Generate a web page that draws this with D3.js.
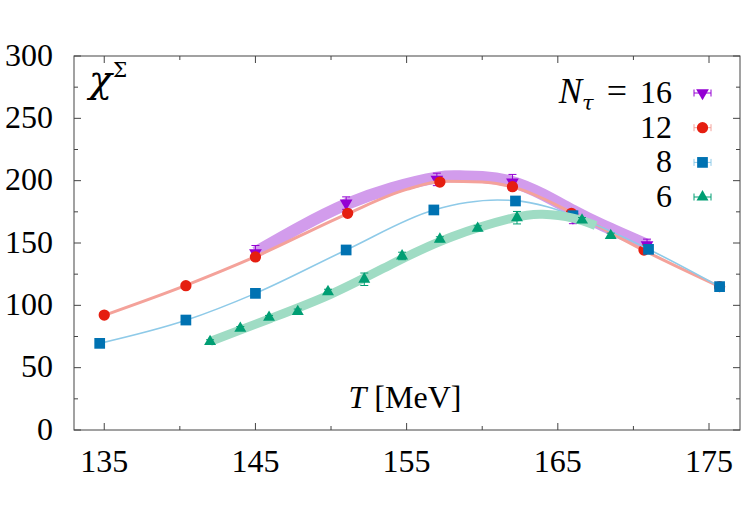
<!DOCTYPE html>
<html>
<head>
<meta charset="utf-8">
<script src="https://cdn.jsdelivr.net/npm/d3@7"></script>
<style>
  body { margin: 0; background: #fff; }
</style>
</head>
<body>
<div id="chart"></div>
<script>
// ---- data ----
// N_tau = 16 (points + fit band)
const T16 = [145, 151, 157, 162, 166, 170.9];
const v16 = [142, 182, 201, 198.7, 170.5, 148.4];
const e16 = [6, 5, 5, 6.3, 5, 4.7];
const band16T = [145, 148, 151, 154, 157, 158.5, 160, 162, 164, 166, 168, 171];
const band16v = [142.5, 163, 181, 194, 202.5, 203.5, 203, 199, 189, 176, 164, 148];

// N_tau = 12
const T12 = [135, 140.4, 145, 151.1, 157.2, 162, 165.9, 170.7, 175.7];
const v12 = [92.2, 115.8, 138.8, 173.8, 198.9, 195.2, 173.8, 144.4, 115];
const e12 = [1, 1, 1.5, 2, 2, 2, 2, 1.5, 1];
const fit12T = [135, 140.4, 145, 151, 155, 157.5, 160, 162, 166, 170.7, 175.7];
const fit12v = [92, 116, 139, 173, 193, 199.5, 199, 195, 174, 144, 115];

// N_tau = 8
const T8 = [134.7, 140.4, 145, 151, 156.8, 162.2, 166, 171, 175.7];
const v8 = [69.5, 88.2, 109.6, 144.4, 176.5, 183.7, 171.9, 144.9, 115];
const e8 = [1, 1, 1, 1.5, 1.5, 1.5, 1.5, 1, 1];
const fit8T = [134.7, 140.4, 145, 151, 156.8, 159, 161, 162.2, 164.3, 166, 171, 175.7];
const fit8v = [69.5, 88, 109.6, 144.4, 176.5, 182.5, 184.5, 184, 179, 172, 145, 115];

// N_tau = 6
const T6 = [142, 144, 145.9, 147.8, 149.8, 152.2, 154.7, 157.2, 159.7, 162.3, 166.6, 168.5];
const v6 = [70.9, 81.5, 90.4, 95, 110.9, 120.9, 139.6, 153, 161.8, 170.3, 168.4, 155.9];
const e6 = [1.5, 1.5, 1.5, 2, 2, 5, 3, 2, 2, 5, 2, 2];
const band6T = [142, 146, 150, 154, 158, 162, 164, 166, 167.5];
const band6v = [71, 89.5, 109, 133, 155, 170, 173, 170, 164];

const xTicks = [135, 145, 155, 165, 175];
const yTicks = [0, 50, 100, 150, 200, 250, 300];
const legendLabels = ["16", "12", "8", "6"];

// ---- layout ----
const W = 750, H = 515;
const mLeft = 74, mRight = 740, mTop = 56, mBottom = 430;
const serif = "'Liberation Serif', 'DejaVu Serif', 'Times New Roman', serif";
const greek = "'DejaVu Serif', 'Liberation Serif', serif";

const svg = d3.select("#chart").append("svg")
    .attr("width", W)
    .attr("height", H)
    .attr("font-family", serif)
    .style("font-family", serif);

const x = d3.scaleLinear().domain([133, 177.05]).range([mLeft, mRight]);
const y = d3.scaleLinear().domain([0, 300]).range([mBottom, mTop]);

const col = {
    p16: "#9400d3", b16: "#d29cec",
    p12: "#e51e10", l12: "#f4a29a",
    p8: "#0072b2", l8: "#8ecae8",
    p6: "#009e73", b6: "#9fdcc4"
};

// ---- frame and ticks ----
const axisCol = "#444";
const fr = svg.append("g");
fr.append("rect")
    .attr("x", mLeft).attr("y", mTop)
    .attr("width", mRight - mLeft).attr("height", mBottom - mTop)
    .attr("fill", "none").attr("stroke", axisCol).attr("stroke-width", 1);

d3.range(135, 177, 5).forEach(t => {
    const len = (t % 10 === 5) ? 7 : 4;
    fr.append("line").attr("x1", x(t)).attr("x2", x(t))
        .attr("y1", mBottom).attr("y2", mBottom - len).attr("stroke", axisCol);
    fr.append("line").attr("x1", x(t)).attr("x2", x(t))
        .attr("y1", mTop).attr("y2", mTop + len).attr("stroke", axisCol);
});
d3.range(0, 301, 25).forEach(v => {
    const len = (v % 50 === 0) ? 7 : 4;
    fr.append("line").attr("y1", y(v)).attr("y2", y(v))
        .attr("x1", mLeft).attr("x2", mLeft + len).attr("stroke", axisCol);
    fr.append("line").attr("y1", y(v)).attr("y2", y(v))
        .attr("x1", mRight).attr("x2", mRight - len).attr("stroke", axisCol);
});

svg.append("g").selectAll("text")
    .data(xTicks)
    .join("text")
    .attr("x", d => x(d))
    .attr("y", 472)
    .attr("text-anchor", "middle")
    .style("font-size", "32px")
    .text(d => d);

svg.append("g").selectAll("text")
    .data(yTicks)
    .join("text")
    .attr("x", 53)
    .attr("y", d => y(d) + 9.5)
    .attr("text-anchor", "end")
    .style("font-size", "32px")
    .text(d => d);

// ---- curves ----
const zip = (a, b) => a.map((t, i) => [t, b[i]]);
const line = d3.line().x(d => x(d[0])).y(d => y(d[1])).curve(d3.curveMonotoneX);
const smooth = d3.line().x(d => x(d[0])).y(d => y(d[1])).curve(d3.curveNatural);

function errBars(Ts, vs, es, color) {
    const g = svg.append("g").attr("stroke", color).attr("stroke-width", 1);
    Ts.forEach((t, i) => {
        const cx = x(t), y1 = y(vs[i] - es[i]), y2 = y(vs[i] + es[i]);
        g.append("line").attr("x1", cx).attr("x2", cx).attr("y1", y1).attr("y2", y2);
        g.append("line").attr("x1", cx - 4).attr("x2", cx + 4).attr("y1", y1).attr("y2", y1);
        g.append("line").attr("x1", cx - 4).attr("x2", cx + 4).attr("y1", y2).attr("y2", y2);
    });
}

const sym = {
    down: d3.symbol().type(d3.symbolTriangle).size(70),
    circle: d3.symbol().type(d3.symbolCircle).size(100),
    square: d3.symbol().type(d3.symbolSquare).size(115),
    up: d3.symbol().type(d3.symbolTriangle).size(62)
};

function points(Ts, vs, path, color, rot) {
    svg.append("g").selectAll("path")
        .data(zip(Ts, vs))
        .join("path")
        .attr("d", path)
        .attr("transform", d => `translate(${x(d[0])},${y(d[1])})${rot ? " rotate(180)" : ""}`)
        .attr("fill", color);
}

// Nt = 16
svg.append("path").datum(zip(band16T, band16v))
    .attr("d", smooth).attr("fill", "none")
    .attr("stroke", col.b16).attr("stroke-width", 12).attr("stroke-linecap", "butt");
errBars(T16, v16, e16, col.p16);
points(T16, v16, sym.down, col.p16, true);

// Nt = 12
svg.append("path").datum(zip(fit12T, fit12v))
    .attr("d", line).attr("fill", "none")
    .attr("stroke", col.l12).attr("stroke-width", 3);
errBars(T12, v12, e12, col.p12);
points(T12, v12, sym.circle, col.p12, false);

// Nt = 8
svg.append("path").datum(zip(fit8T, fit8v))
    .attr("d", line).attr("fill", "none")
    .attr("stroke", col.l8).attr("stroke-width", 1.6);
errBars(T8, v8, e8, col.p8);
points(T8, v8, sym.square, col.p8, false);

// Nt = 6
svg.append("path").datum(zip(band6T, band6v))
    .attr("d", smooth).attr("fill", "none")
    .attr("stroke", col.b6).attr("stroke-width", 9);
errBars(T6, v6, e6, col.p6);
points(T6, v6, sym.up, col.p6, false);

// ---- labels ----
const chi = svg.append("text").attr("x", 89).attr("y", 92);
chi.append("tspan").style("font-family", greek).style("font-size", "38px").style("font-style", "italic").text("χ");
chi.append("tspan").attr("dy", -15).attr("dx", 1).style("font-family", greek).style("font-size", "20px").text("Σ");

const tl = svg.append("text").attr("x", 405).attr("y", 408)
    .attr("text-anchor", "middle").style("font-size", "32px");
tl.append("tspan").style("font-style", "italic").text("T");
tl.append("tspan").text(" [MeV]");

// ---- legend ----
const legY = [93, 127.7, 162.4, 197];
const legSym = [[sym.down, col.p16, col.p16, true], [sym.circle, col.p12, col.l12, false],
                [sym.square, col.p8, col.l8, false], [sym.up, col.p6, col.p6, false]];
legendLabels.forEach((lab, i) => {
    const t = svg.append("text").attr("x", 672).attr("y", legY[i] + 10)
        .attr("text-anchor", "end").style("font-size", "32px");
    if (i === 0) {
        t.append("tspan").style("font-style", "italic").style("font-size", "35px").text("N");
        t.append("tspan").attr("dy", 7).style("font-family", greek).style("font-size", "21px").style("font-style", "italic").text("τ");
        t.append("tspan").attr("dy", -7).attr("dx", 13).style("font-size", "36px").text("=");
        t.append("tspan").attr("dx", 13).text(lab);
    } else {
        t.text(lab);
    }
    const [s, fc, bc, rot] = legSym[i];
    const g = svg.append("g").attr("stroke", bc).attr("stroke-width", 1);
    g.append("line").attr("x1", 694).attr("x2", 711).attr("y1", legY[i]).attr("y2", legY[i]);
    g.append("line").attr("x1", 694).attr("x2", 694).attr("y1", legY[i] - 3.5).attr("y2", legY[i] + 3.5);
    g.append("line").attr("x1", 711).attr("x2", 711).attr("y1", legY[i] - 3.5).attr("y2", legY[i] + 3.5);
    svg.append("path").attr("d", s)
        .attr("transform", `translate(702.5,${legY[i]})${rot ? " rotate(180)" : ""}`)
        .attr("fill", fc);
});
</script>
</body>
</html>
